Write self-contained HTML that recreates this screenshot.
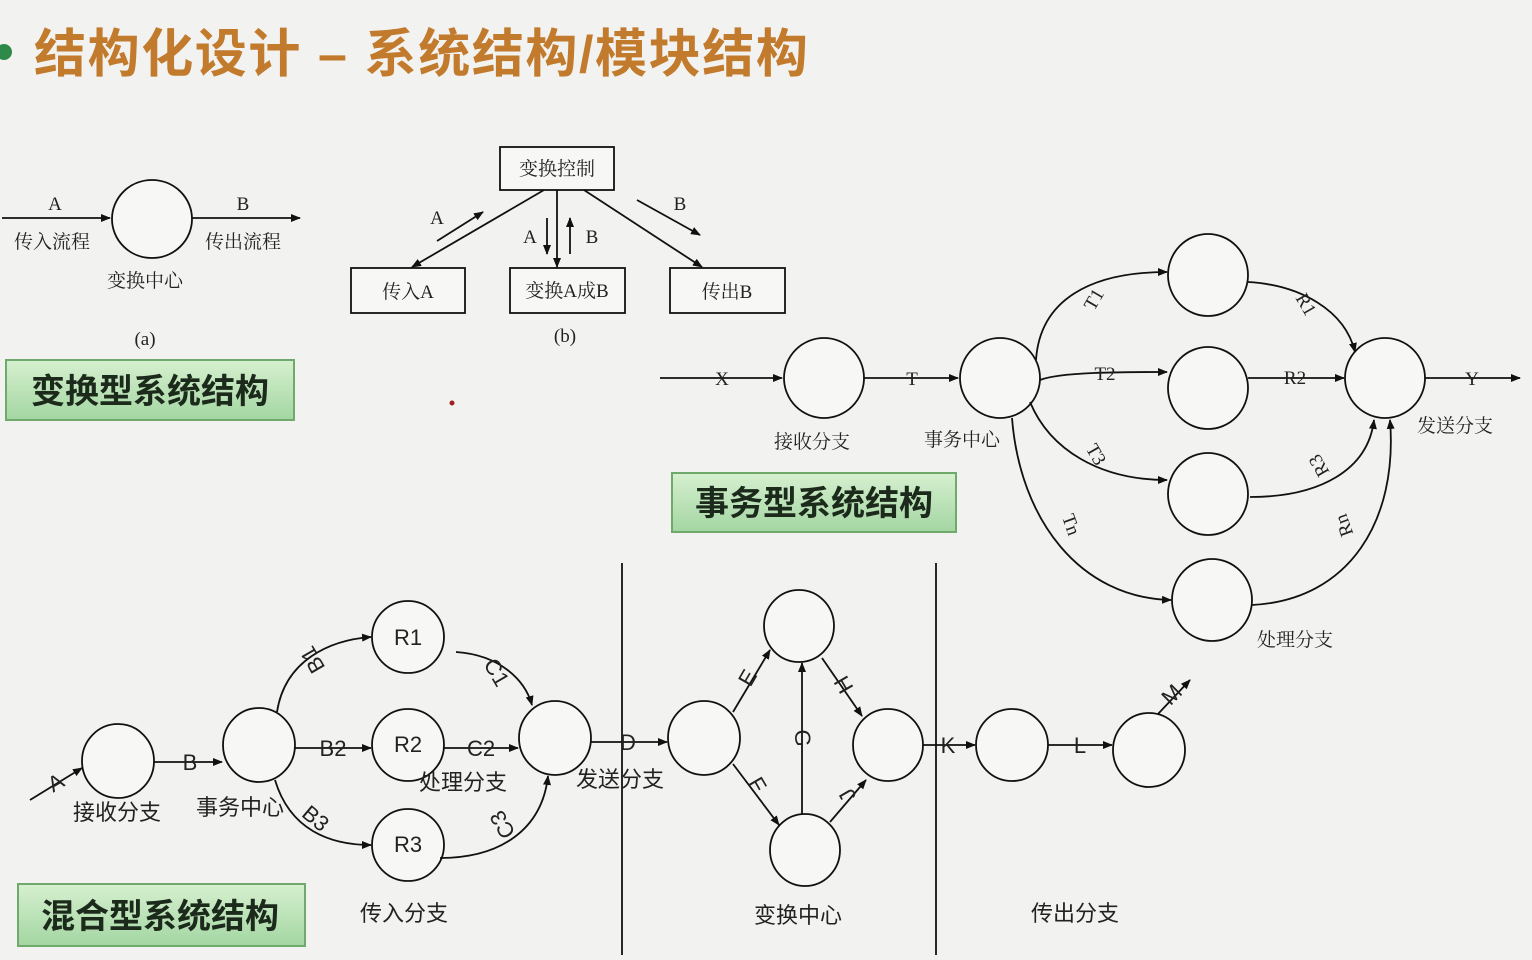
<!DOCTYPE html>
<html><head><meta charset="utf-8"><style>
html,body{margin:0;padding:0;background:#f2f2f0;}
svg{display:block;}
text{font-family:"Liberation Serif","Noto Serif CJK SC",serif;fill:#222;}
.s{font-family:"Liberation Sans","Noto Sans CJK SC",sans-serif;}
</style></head><body>
<svg width="1532" height="960" viewBox="0 0 1532 960" xmlns="http://www.w3.org/2000/svg">
<defs>
<marker id="ar" markerWidth="10" markerHeight="8" refX="9" refY="4" orient="auto" markerUnits="userSpaceOnUse"><path d="M0,0 L10,4 L0,8 Z" fill="#111"/></marker>
<linearGradient id="gg" x1="0" y1="0" x2="0" y2="1"><stop offset="0" stop-color="#d6f0cf"/><stop offset="1" stop-color="#a3d6a2"/></linearGradient>
</defs>
<rect width="1532" height="960" fill="#f2f2f0"/>
<circle cx="4" cy="52" r="8" fill="#2f8a4a"/>
<text x="34" y="72" class="s" font-size="52" font-weight="bold" letter-spacing="1.6" style="fill:#c27a2c">结构化设计 – 系统结构/模块结构</text>

<g stroke="#111" stroke-width="1.8" fill="none">
<line x1="2" y1="218" x2="110" y2="218" marker-end="url(#ar)"/>
<ellipse cx="152" cy="219" rx="40" ry="39" fill="#f7f7f5"/>
<line x1="192" y1="218" x2="300" y2="218" marker-end="url(#ar)"/>
<rect x="500" y="147" width="114" height="43" fill="#f7f7f5"/>
<rect x="351" y="268" width="114" height="45" fill="#f7f7f5"/>
<rect x="510" y="268" width="115" height="45" fill="#f7f7f5"/>
<rect x="670" y="268" width="115" height="45" fill="#f7f7f5"/>
<line x1="544" y1="190" x2="412" y2="267" marker-end="url(#ar)"/>
<line x1="557" y1="190" x2="557" y2="267" marker-end="url(#ar)"/>
<line x1="584" y1="190" x2="702" y2="267" marker-end="url(#ar)"/>
<line x1="437" y1="241" x2="483" y2="212" marker-end="url(#ar)"/>
<line x1="547" y1="218" x2="547" y2="254" marker-end="url(#ar)"/>
<line x1="570" y1="254" x2="570" y2="218" marker-end="url(#ar)"/>
<line x1="637" y1="200" x2="700" y2="235" marker-end="url(#ar)"/>
<line x1="660" y1="378" x2="782" y2="378" marker-end="url(#ar)"/>
<ellipse cx="824" cy="378" rx="40" ry="40" fill="#f7f7f5"/>
<line x1="864" y1="378" x2="958" y2="378" marker-end="url(#ar)"/>
<ellipse cx="1000" cy="378" rx="40" ry="40" fill="#f7f7f5"/>
<ellipse cx="1208" cy="275" rx="40" ry="41" fill="#f7f7f5"/>
<ellipse cx="1208" cy="388" rx="40" ry="41" fill="#f7f7f5"/>
<ellipse cx="1208" cy="494" rx="40" ry="41" fill="#f7f7f5"/>
<ellipse cx="1212" cy="600" rx="40" ry="41" fill="#f7f7f5"/>
<ellipse cx="1385" cy="378" rx="40" ry="40" fill="#f7f7f5"/>
<line x1="1425" y1="378" x2="1520" y2="378" marker-end="url(#ar)"/>
<path d="M1036,360 C1040,300 1090,272 1167,272" marker-end="url(#ar)"/>
<path d="M1040,380 C1060,372 1120,372 1167,372" marker-end="url(#ar)"/>
<path d="M1030,402 C1050,450 1100,480 1167,480" marker-end="url(#ar)"/>
<path d="M1012,418 C1020,520 1080,598 1171,600" marker-end="url(#ar)"/>
<path d="M1248,282 C1300,285 1345,310 1355,352" marker-end="url(#ar)"/>
<line x1="1248" y1="378" x2="1344" y2="378" marker-end="url(#ar)"/>
<path d="M1250,497 C1320,497 1368,470 1374,420" marker-end="url(#ar)"/>
<path d="M1252,605 C1350,600 1398,520 1390,420" marker-end="url(#ar)"/>
<line x1="622" y1="563" x2="622" y2="955"/>
<line x1="936" y1="563" x2="936" y2="955"/>
<line x1="30" y1="800" x2="82" y2="768" marker-end="url(#ar)"/>
<ellipse cx="118" cy="761" rx="36" ry="37" fill="#f7f7f5"/>
<line x1="154" y1="762" x2="222" y2="762" marker-end="url(#ar)"/>
<ellipse cx="259" cy="745" rx="36" ry="37" fill="#f7f7f5"/>
<ellipse cx="408" cy="637" rx="36" ry="36" fill="#f7f7f5"/>
<ellipse cx="408" cy="745" rx="36" ry="36" fill="#f7f7f5"/>
<ellipse cx="408" cy="845" rx="36" ry="36" fill="#f7f7f5"/>
<ellipse cx="555" cy="738" rx="36" ry="37" fill="#f7f7f5"/>
<path d="M277,712 C285,660 330,640 371,637" marker-end="url(#ar)"/>
<line x1="295" y1="748" x2="371" y2="748" marker-end="url(#ar)"/>
<path d="M275,780 C290,830 330,845 371,845" marker-end="url(#ar)"/>
<path d="M456,652 C500,655 525,680 532,705" marker-end="url(#ar)"/>
<line x1="444" y1="748" x2="518" y2="748" marker-end="url(#ar)"/>
<path d="M440,858 C500,858 542,830 548,776" marker-end="url(#ar)"/>
<line x1="591" y1="742" x2="667" y2="742" marker-end="url(#ar)"/>
<ellipse cx="704" cy="738" rx="36" ry="37" fill="#f7f7f5"/>
<ellipse cx="799" cy="626" rx="35" ry="36" fill="#f7f7f5"/>
<ellipse cx="805" cy="850" rx="35" ry="36" fill="#f7f7f5"/>
<ellipse cx="888" cy="745" rx="35" ry="36" fill="#f7f7f5"/>
<line x1="733" y1="712" x2="770" y2="650" marker-end="url(#ar)"/>
<line x1="733" y1="764" x2="779" y2="825" marker-end="url(#ar)"/>
<line x1="802" y1="814" x2="802" y2="663" marker-end="url(#ar)"/>
<line x1="822" y1="658" x2="862" y2="716" marker-end="url(#ar)"/>
<line x1="830" y1="822" x2="866" y2="780" marker-end="url(#ar)"/>
<line x1="923" y1="745" x2="975" y2="745" marker-end="url(#ar)"/>
<ellipse cx="1012" cy="745" rx="36" ry="36" fill="#f7f7f5"/>
<line x1="1048" y1="745" x2="1112" y2="745" marker-end="url(#ar)"/>
<ellipse cx="1149" cy="750" rx="36" ry="37" fill="#f7f7f5"/>
<line x1="1158" y1="714" x2="1190" y2="680" marker-end="url(#ar)"/>
</g>

<g font-size="19" text-anchor="middle">
<text x="55" y="210">A</text><text x="243" y="210">B</text>
<text x="52" y="248">传入流程</text><text x="243" y="248">传出流程</text>
<text x="145" y="287">变换中心</text><text x="145" y="345">(a)</text>
<text x="557" y="175">变换控制</text>
<text x="408" y="298">传入A</text><text x="567" y="297">变换A成B</text><text x="727" y="298">传出B</text>
<text x="437" y="224">A</text><text x="530" y="243">A</text><text x="592" y="243">B</text><text x="680" y="210">B</text>
<text x="565" y="342">(b)</text>
<text x="722" y="385">X</text><text x="912" y="385">T</text><text x="1472" y="385">Y</text>
<text x="812" y="448">接收分支</text><text x="962" y="446">事务中心</text>
<text x="1455" y="432">发送分支</text><text x="1295" y="646">处理分支</text>
<text x="1105" y="380">T2</text><text x="1295" y="384">R2</text>
<text x="1095" y="305" transform="rotate(-60 1095 300)">T1</text>
<text x="1305" y="310" transform="rotate(60 1305 305)">R1</text>
<text x="1095" y="460" transform="rotate(60 1095 455)">T3</text>
<text x="1320" y="470" transform="rotate(-120 1320 465)">R3</text>
<text x="1070" y="530" transform="rotate(70 1070 525)">Tn</text>
<text x="1345" y="530" transform="rotate(-110 1345 525)">Rn</text>
</g>

<g font-size="22" text-anchor="middle" class="s">
<text class="s" x="408" y="645">R1</text><text class="s" x="408" y="752">R2</text><text class="s" x="408" y="852">R3</text>
<text class="s" x="56" y="790" transform="rotate(-30 56 783)">A</text>
<text class="s" x="190" y="770">B</text><text class="s" x="333" y="756">B2</text><text class="s" x="481" y="756">C2</text>
<text class="s" x="628" y="750">D</text><text class="s" x="948" y="753">K</text><text class="s" x="1080" y="753">L</text>
<text class="s" x="1172" y="702" transform="rotate(-45 1172 695)">M</text>
<text class="s" x="312" y="668" transform="rotate(-120 312 660)">B1</text>
<text class="s" x="316" y="826" transform="rotate(40 316 818)">B3</text>
<text class="s" x="497" y="680" transform="rotate(60 497 672)">C1</text>
<text class="s" x="502" y="833" transform="rotate(-120 502 825)">C3</text>
<text class="s" x="748" y="685" transform="rotate(-60 748 678)">E</text>
<text class="s" x="757" y="792" transform="rotate(60 757 785)">F</text>
<text class="s" x="802" y="745" transform="rotate(90 802 738)">G</text>
<text class="s" x="843" y="692" transform="rotate(60 843 685)">H</text>
<text class="s" x="848" y="802" transform="rotate(-120 848 795)">J</text>
<text class="s" x="117" y="820">接收分支</text><text class="s" x="240" y="815">事务中心</text>
<text class="s" x="463" y="790">处理分支</text><text class="s" x="620" y="787">发送分支</text>
<text class="s" x="404" y="921">传入分支</text><text class="s" x="798" y="923">变换中心</text><text class="s" x="1075" y="921">传出分支</text>
</g>

<circle cx="452" cy="403" r="2.5" fill="#a02020"/>

<g>
<rect x="6" y="360" width="288" height="60" fill="url(#gg)" stroke="#6faa6c" stroke-width="2"/>
<text x="150" y="403" class="s" text-anchor="middle" font-size="34" font-weight="bold" style="fill:#1c2a1c">变换型系统结构</text>
<rect x="672" y="473" width="284" height="59" fill="url(#gg)" stroke="#6faa6c" stroke-width="2"/>
<text x="814" y="515" class="s" text-anchor="middle" font-size="34" font-weight="bold" style="fill:#1c2a1c">事务型系统结构</text>
<rect x="18" y="884" width="287" height="62" fill="url(#gg)" stroke="#6faa6c" stroke-width="2"/>
<text x="160" y="928" class="s" text-anchor="middle" font-size="34" font-weight="bold" style="fill:#1c2a1c">混合型系统结构</text>
</g>
</svg>
</body></html>
